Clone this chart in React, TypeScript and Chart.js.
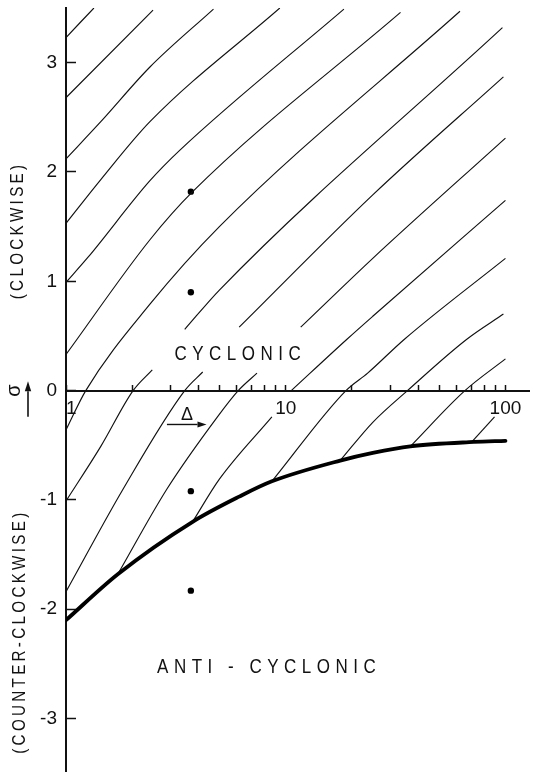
import { useEffect, useRef } from 'react';
import { Chart, registerables } from 'chart.js';

Chart.register(...registerables);

// ---- axis ticks ----
const xTickValues = [1, 2, 3, 4, 5, 6, 7, 8, 9, 10, 20, 30, 40, 50, 60, 70, 80, 90, 100];
const xLabelValues = [1, 10, 100];
const yTickValues = [-3, -2, -1, 0, 1, 2, 3];

// ---- boundary (thick curve) ----
const boundaryDelta = [1, 1.72, 3.77, 6.14, 8.65, 17.7, 24.9, 36.9, 71.8, 100];
const boundarySigma = [-2.1, -1.68, -1.2, -0.97, -0.83, -0.64, -0.57, -0.51, -0.47, -0.46];

// ---- points ----
const dotDelta = [3.7, 3.7, 3.7, 3.7];
const dotSigma = [1.82, 0.9, -0.92, -1.83];

// ---- hatch curves: [delta, sigma] ----
const hatch1 = [[1, 3.23], [1.34, 3.5]];
const hatch2 = [[1, 2.68], [2.49, 3.48]];
const hatch3 = [[1, 2.12], [1.44, 2.46], [2.41, 2.96], [4.69, 3.49]];
const hatch4 = [[1, 1.53], [1.44, 1.93], [2.41, 2.46], [9.4, 3.5]];
const hatch5 = [[1, 0.99], [1.26, 1.22], [2.41, 1.92], [3.3, 2.2], [18.4, 3.49]];
const hatch6 = [[1, 0.33], [2.41, 1.38], [3.77, 1.82], [33.3, 3.46]];
const hatch7 = [[1, -0.36], [1.23, 0], [2.41, 0.79], [4.99, 1.5], [62.1, 3.47]];
const hatch8a = [[1, -1.01], [1.44, -0.51], [2.02, 0], [2.47, 0.19]];
const hatch8b = [[3.47, 0.56], [4.99, 0.92], [96.9, 3.32]];
const hatch9a = [[1, -1.84], [1.82, -0.9], [3.47, 0], [4.19, 0.17]];
const hatch9b = [[6.14, 0.58], [24.9, 1.79], [97.9, 2.87]];
const hatch10a = [[1.72, -1.68], [2.88, -0.9], [4.89, -0.24], [6.08, 0], [7.4, 0.16]];
const hatch10b = [[11.7, 0.58], [24.9, 1.21], [100, 2.31]];
const hatch11a = [[3.77, -1.2], [4.99, -0.81], [8.65, -0.24]];
const hatch11b = [[10.6, 0], [19, 0.47], [24.9, 0.68], [100, 1.74]];
const hatch12 = [[8.65, -0.83], [18.8, 0], [23.6, 0.16], [34.7, 0.47], [100, 1.21]];
const hatch13 = [[17.7, -0.64], [24.9, -0.29], [35.8, 0], [66.7, 0.47], [97.9, 0.7]];
const hatch14 = [[36.9, -0.51], [65.4, 0], [100, 0.29]];
const hatch15 = [[70.3, -0.47], [89.2, -0.24]];

const hatchSegments = [
  hatch1, hatch2, hatch3, hatch4, hatch5, hatch6, hatch7, hatch8a, hatch8b,
  hatch9a, hatch9b, hatch10a, hatch10b, hatch11a, hatch11b, hatch12, hatch13, hatch14, hatch15,
];

const FONT = '"Liberation Sans", Arial, sans-serif';
const INK = '#111';

function drawSpaced(ctx: CanvasRenderingContext2D, text: string, cx: number, cy: number, spacing: number, squeeze: number) {
  const chars = [...text];
  const widths = chars.map((ch) => ctx.measureText(ch).width * squeeze);
  const total = widths.reduce((a, b) => a + b, 0) + spacing * (chars.length - 1);
  let x = cx - total / 2;
  ctx.textAlign = 'left';
  ctx.textBaseline = 'middle';
  chars.forEach((ch, i) => {
    ctx.save();
    ctx.translate(x, cy);
    ctx.scale(squeeze, 1);
    ctx.fillText(ch, 0, 0);
    ctx.restore();
    x += widths[i] + spacing;
  });
}

function drawArrow(ctx: CanvasRenderingContext2D, x1: number, y1: number, x2: number, y2: number, head: number, half: number) {
  const ang = Math.atan2(y2 - y1, x2 - x1);
  const bx = x2 - head * Math.cos(ang);
  const by = y2 - head * Math.sin(ang);
  ctx.beginPath();
  ctx.moveTo(x1, y1);
  ctx.lineTo(bx, by);
  ctx.stroke();
  ctx.beginPath();
  ctx.moveTo(x2, y2);
  ctx.lineTo(bx + half * Math.sin(ang), by - half * Math.cos(ang));
  ctx.lineTo(bx - half * Math.sin(ang), by + half * Math.cos(ang));
  ctx.closePath();
  ctx.fill();
}

const annotationPlugin = {
  id: 'annotations',
  beforeDraw(chart: any) {
    const ctx = chart.ctx;
    ctx.save();
    ctx.fillStyle = '#fff';
    ctx.fillRect(0, 0, chart.width, chart.height);
    ctx.restore();
  },
  afterDraw(chart: any) {
    const ctx: CanvasRenderingContext2D = chart.ctx;
    const xs = chart.scales.x;
    const ys = chart.scales.y;
    const left = chart.chartArea.left;
    ctx.save();
    ctx.fillStyle = INK;
    ctx.strokeStyle = INK;

    // region labels
    ctx.font = `20px ${FONT}`;
    drawSpaced(ctx, 'CYCLONIC', xs.getPixelForValue(6.04), ys.getPixelForValue(0.33), 5.5, 0.85);
    drawSpaced(ctx, 'ANTI - CYCLONIC', xs.getPixelForValue(8.17), ys.getPixelForValue(-2.53), 5.5, 0.85);

    // Delta with arrow
    ctx.font = `18px ${FONT}`;
    ctx.textAlign = 'center';
    ctx.textBaseline = 'middle';
    ctx.fillText('Δ', xs.getPixelForValue(3.55), ys.getPixelForValue(-0.22));
    ctx.lineWidth = 1.4;
    drawArrow(ctx, xs.getPixelForValue(2.88), ys.getPixelForValue(-0.31), xs.getPixelForValue(4.36), ys.getPixelForValue(-0.31), 9, 3);

    // rotated axis titles
    ctx.font = `19px ${FONT}`;
    ctx.save();
    ctx.translate(left - 48, ys.getPixelForValue(1.45));
    ctx.rotate(-Math.PI / 2);
    drawSpaced(ctx, '(CLOCKWISE)', 0, 0, 3.3, 0.8);
    ctx.restore();

    ctx.save();
    ctx.translate(left - 46, ys.getPixelForValue(-2.22));
    ctx.rotate(-Math.PI / 2);
    drawSpaced(ctx, '(COUNTER-CLOCKWISE)', 0, 0, 3.3, 0.8);
    ctx.restore();

    // sigma with arrow
    ctx.font = `20px ${FONT}`;
    ctx.save();
    ctx.translate(left - 52, ys.getPixelForValue(0));
    ctx.rotate(-Math.PI / 2);
    ctx.textAlign = 'center';
    ctx.textBaseline = 'middle';
    ctx.fillText('σ', 0, 0);
    ctx.restore();
    ctx.lineWidth = 1.6;
    drawArrow(ctx, left - 38, ys.getPixelForValue(-0.24), left - 38, ys.getPixelForValue(0.085), 10, 3.2);

    ctx.restore();
  },
};

export default function App() {
  const canvasRef = useRef<HTMLCanvasElement | null>(null);

  useEffect(() => {
    const canvas = canvasRef.current;
    if (!canvas) return;

    const datasets: any[] = [];
    datasets.push({
      label: 'boundary',
      data: boundaryDelta.map((d, i) => ({ x: d, y: boundarySigma[i] })),
      borderColor: '#000',
      borderWidth: 3.8,
      borderCapStyle: 'round',
      pointRadius: 0,
      cubicInterpolationMode: 'monotone',
      fill: false,
    });
    hatchSegments.forEach((seg, i) => {
      datasets.push({
        label: 'hatch' + i,
        data: seg.map(([x, y]) => ({ x, y })),
        borderColor: INK,
        borderWidth: 1.15,
        pointRadius: 0,
        cubicInterpolationMode: 'monotone',
        fill: false,
      });
    });
    datasets.push({
      label: 'points',
      data: dotDelta.map((d, i) => ({ x: d, y: dotSigma[i] })),
      showLine: false,
      pointRadius: 3.2,
      pointBackgroundColor: '#000',
      pointBorderWidth: 0,
    });

    const chart = new Chart(canvas, {
      type: 'line',
      data: { datasets },
      options: {
        animation: false,
        responsive: false,
        devicePixelRatio: 1,
        events: [],
        layout: { padding: { left: 0, right: 0, top: 8, bottom: 3 } },
        plugins: { legend: { display: false }, tooltip: { enabled: false }, title: { display: false } },
        scales: {
          x: {
            type: 'logarithmic',
            min: 1,
            max: 128,
            position: { y: 0 } as any,
            afterBuildTicks: (axis: any) => {
              axis.ticks = xTickValues.map((v) => ({ value: v }));
            },
            afterFit: (axis: any) => {
              axis.paddingLeft = 0;
              axis.paddingRight = 0;
              axis.paddingTop = 0;
              axis.paddingBottom = 0;
            },
            ticks: {
              autoSkip: false,
              maxRotation: 0,
              padding: 14,
              color: INK,
              font: { family: FONT, size: 19 },
              callback: (v: any) => (v === 1 ? '  1' : xLabelValues.includes(Number(v)) ? String(v) : ''),
            },
            grid: { drawOnChartArea: false, drawTicks: true, tickLength: -7, tickWidth: 1.5, tickColor: INK },
            border: { display: true, color: INK, width: 2 },
          },
          y: {
            type: 'linear',
            min: -3.48,
            max: 3.5,
            position: 'left',
            afterBuildTicks: (axis: any) => {
              axis.ticks = yTickValues.map((v) => ({ value: v }));
            },
            afterFit: (axis: any) => {
              axis.width = 66;
              axis.paddingTop = 0;
              axis.paddingBottom = 0;
              axis.paddingLeft = 0;
              axis.paddingRight = 0;
            },
            ticks: {
              padding: 19,
              color: INK,
              font: { family: FONT, size: 19 },
              callback: (v: any) => String(v),
            },
            grid: { drawOnChartArea: false, drawTicks: true, tickLength: -10, tickWidth: 1.5, tickColor: INK },
            border: { display: true, color: INK, width: 2 },
          },
        },
      },
      plugins: [annotationPlugin],
    });

    return () => chart.destroy();
  }, []);

  return (
    <div style={{ position: 'absolute', left: 0, top: 0, width: 533, height: 775, background: '#fff' }}>
      <canvas ref={canvasRef} width={533} height={775} style={{ width: 533, height: 775, display: 'block' }} />
    </div>
  );
}
